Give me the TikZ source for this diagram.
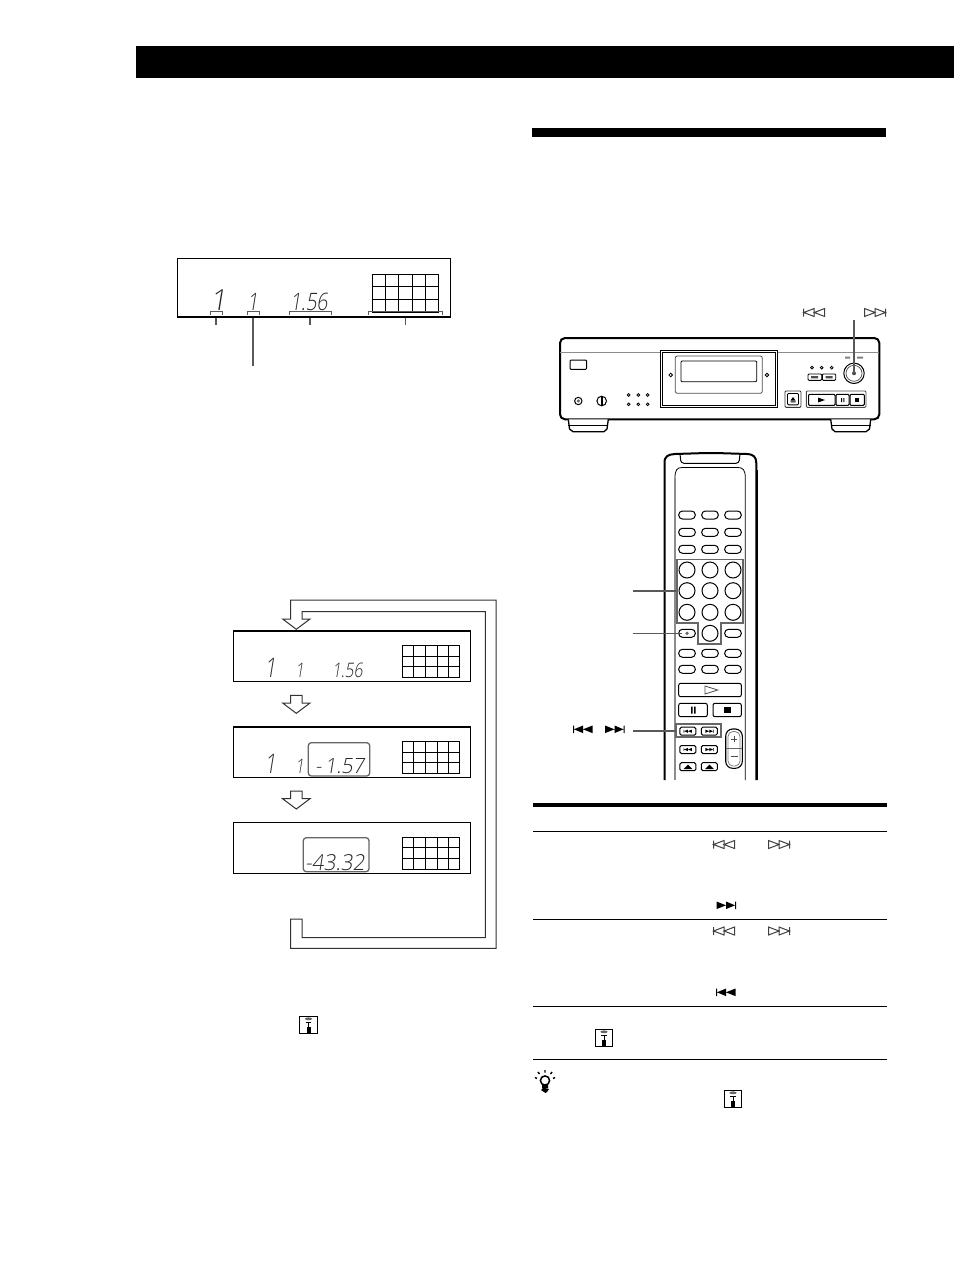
\documentclass[tikz,border=0pt]{standalone}
\usepackage{fontspec}
\newfontfamily\lcd{Open Sans Light}
\newcommand\lcdf[1]{\lcd\fontsize{#1}{#1}\selectfont}
\tikzset{
  ink/.style={draw=black,line width=1pt},
  greyink/.style={draw=black!65,line width=1pt},
  lcdtext/.style={anchor=base west,inner sep=0pt,outer sep=0pt,transform shape,text=black!85},
  lcdbig/.style={lcdtext,xslant=.16,font=\lcdf{29}},
  lcdmid/.style={lcdtext,xslant=.16,xscale=.8,font=\lcdf{24}},
  lcdsmall/.style={lcdtext,xslant=.16,xscale=.78,font=\lcdf{20}},
  oval/.style={ink,rounded corners=3.8pt},
  dotmark/.style={draw=black,line width=.8pt,fill=white},
  pics/prevhollow/.style={code={
    \draw[draw=black!75,line width=1pt] (-10.5,-4)--(-10.5,4) (-10.5,0)--(0,-4)--(0,4)--cycle (0,0)--(10.5,-4)--(10.5,4)--cycle;}},
  pics/nexthollow/.style={code={
    \draw[draw=black!75,line width=1pt] (10.5,-4)--(10.5,4) (10.5,0)--(0,-4)--(0,4)--cycle (0,0)--(-10.5,-4)--(-10.5,4)--cycle;}},
  pics/prevfill/.style={code={
    \fill[black] (-10,-3.8) rectangle (-9,3.8) (-9,0)--(0,-3.8)--(0,3.8)--cycle (0,0)--(9.5,-3.8)--(9.5,3.8)--cycle;}},
  pics/nextfill/.style={code={
    \fill[black] (10,-3.8) rectangle (9,3.8) (9,0)--(0,-3.8)--(0,3.8)--cycle (0,0)--(-9.5,-3.8)--(-9.5,3.8)--cycle;}},
  pics/remoteicon/.style={code={
    \draw[black,line width=1.1pt,fill=white] (-8.7,-8.7) rectangle (8.7,8.7);
    \fill[black!60] (0,-6.2) ellipse (3.6 and 1.4);
    \draw[black,line width=.9pt] (-2.8,-2.6)--(2.8,-2.6) (0,-2.6)--(0,2);
    \fill[black] (-2,1.5) rectangle (2,7.5);}},
  pics/grid/.style={code={
    \draw[black,line width=1pt] (0,0) rectangle (57.4,32);
    \draw[black,line width=1pt] (11.4,0)--(11.4,32) (23,0)--(23,32) (34.7,0)--(34.7,32) (46.4,0)--(46.4,32) (0,10.7)--(57.4,10.7) (0,21)--(57.4,21);}},
  pics/downarrow/.style={code={
    \draw[draw=black!80,line width=1pt,fill=white] (-5.7,0)--(5.7,0)--(5.7,7.7)--(13.7,7.7)--(0,18)--(-13.7,7.7)--(-5.7,7.7)--cycle;}},
  pics/smallbtn/.style={code={
    \draw[black,line width=1pt,rounded corners=1.5pt] (-8,-4) rectangle (8,4);}}
}
\begin{document}
\begin{tikzpicture}[x=1pt,y=-1pt,line join=miter]
\useasboundingbox (0,0) rectangle (954,1274);
% page furniture
\fill[black] (136,46) rectangle (954,78);
\fill[black] (532,128) rectangle (886,137);
% top display
\draw[black,line width=1pt] (177.5,316.7)--(177.5,258.3)--(450.5,258.3)--(450.5,316.7);
\draw[black,line width=2pt] (176.8,317)--(451.2,317);
\pic at (372.3,274) [xscale=1.157,yscale=1.197] {grid};
\node[lcdbig] (topa) at (210,310.5) {1};
\node[lcdmid] (topb) at (247,310.5) {1};
\node[lcdmid] (topc) at (290,310.5) {1.56};
% brackets
\draw[draw=black!65,line width=1pt] (210.7,314.6)--(210.7,311)--(222.3,311)--(222.3,314.6);
\draw[draw=black!65,line width=1pt] (247.3,314.6)--(247.3,311)--(259.3,311)--(259.3,314.6);
\draw[draw=black!65,line width=1pt] (289.3,314.6)--(289.3,311)--(331.3,311)--(331.3,314.6);
\draw[draw=black!65,line width=1pt] (368.3,314.6)--(368.3,311)--(442.7,311)--(442.7,314.6);
\draw[draw=black!65,line width=2pt] (216,318)--(216,324.7);
\draw[draw=black!65,line width=2pt] (252.7,318)--(252.7,365.7);
\draw[draw=black!65,line width=2pt] (310,318)--(310,324.7);
\draw[draw=black!65,line width=1pt] (405.3,318)--(405.3,324.7);
% loop arrow
\draw[draw=black!80,line width=1pt,fill=white] (290.7,619)--(290.7,600)--(496,600)--(496,948.3)--(290.7,948.3)--(290.7,919)--(302,919)--(302,937.7)--(485.3,937.7)--(485.3,611.7)--(302,611.7)--(302,619)--(310,619)--(296.3,629.3)--(282.7,619)--cycle;
% flow displays
\draw[black,line width=1pt,fill=white] (233.3,631)rectangle(470,681.3);
\draw[black,line width=2pt] (232.8,631)--(470.5,631);
\draw[black,line width=1pt,fill=white] (233.3,726.7)rectangle(470,777.3);
\draw[black,line width=2pt] (232.8,726.7)--(470.5,726.7);
\draw[black,line width=1pt,fill=white] (233.3,822.3)rectangle(470,873.3);
\pic at (402.3,645.3) {grid};
\pic at (402.3,741.3) {grid};
\pic at (402.3,837) {grid};
\pic at (296.3,695.3) {downarrow};
\pic at (296.3,791) {downarrow};
\draw[draw=black!60,line width=1.3pt,rounded corners=3pt] (308.3,742.7) rectangle (369.7,776);
\draw[draw=black!60,line width=1.3pt,rounded corners=3pt] (303.3,837.7) rectangle (369,871.7);
\node[lcdsmall,font=\lcdf{27}] (fa) at (264,677) {1};
\node[lcdsmall] (fb) at (295,677) {1};
\node[lcdsmall] (fc) at (332,677) {1.56};
\node[lcdsmall,font=\lcdf{27}] (ga) at (264,773) {1};
\node[lcdsmall] (gb) at (295,773) {1};
\node[lcdsmall,xscale=1.23,font=\lcdf{21}] (gc) at (315,773) {-\,1.57};
\node[lcdsmall,xscale=1.22,font=\lcdf{22}] (hc) at (305,870) {-43.32};
\pic at (308.5,1025) {remoteicon};
% CD player
\pic at (814.2,312.5) {prevhollow};
\pic at (875,312.5) {nexthollow};
\draw[black,line width=2pt,rounded corners=5pt,fill=white] (560,338)rectangle(879.3,419.3);
\draw[black!45,line width=1pt] (560,352.3)--(660,352.3) (777,352.3)--(879,352.3);
\draw[black,line width=1.3pt,fill=white] (568.3,419.3)--(569.5,429)--(573,431.7)--(604,431.7)--(607,429)--(608.3,419.3);
\draw[black,line width=1.3pt,fill=white] (830.7,419.3)--(832,429)--(835,431.7)--(866,431.7)--(869.5,429)--(870.7,419.3);
\draw[black,line width=1pt] (568.3,425)--(608.3,425) (830.7,425)--(870.7,425);
\draw[black,line width=1.2pt] (660.3,350.7)rectangle(777.3,407.3);
\draw[black,line width=.7pt] (662,352.5)rectangle(775.6,405.6);
\draw[black!70,line width=.8pt,rounded corners=2pt] (675.3,356)--(675.3,393.3)--(762.3,393.3)--(762.3,356)--cycle;
\draw[black,line width=.9pt,rounded corners=1pt] (681,361)rectangle(756.7,381.7);
\draw[dotmark] (670.7,375) circle (1.8);
\draw[dotmark] (767,375) circle (1.8);
\draw[black,line width=1pt,rounded corners=1pt] (570,360)rectangle(586.7,369.3);
\draw[black,line width=1pt] (578.3,401) circle (3.7);
\fill[black!60] (578.3,401) circle (1.7);
\draw[black,line width=1pt] (601.7,401) circle (4.8);
\fill[black] (600.6,396.5) rectangle (602.8,405.5);
\foreach \dx in {628.7,638.3,647.7}{\foreach \dy in {395,404.3}{\draw[dotmark] (\dx,\dy) circle (1.4);}}
\foreach \dx in {812,821.7,831.7}{\draw[dotmark] (\dx,367.7) circle (1.4);}
\draw[black,line width=.9pt,rounded corners=1pt] (808,374)rectangle(821.7,380.3);
\draw[black,line width=.9pt,rounded corners=1pt] (822.3,374)rectangle(835.7,380.3);
\fill[black!70] (811,376) rectangle (818,378.4) (825.5,376) rectangle (832.5,378.4);
\draw[black,line width=1pt] (854,373.3) circle (10.2);
\draw[black!70,line width=.7pt] (854,373.3) circle (8);
\fill[black!50] (845,356.5) rectangle (850,358.5) (857,356.5) rectangle (863,358.5);
\draw[black!80,line width=.9pt,rounded corners=1pt] (785,391)rectangle(801,407.3);
\draw[black,line width=.9pt,rounded corners=1pt] (787.5,393.5)rectangle(798.5,404.8);
\fill[black] (790.5,400.5)--(793,397)--(795.5,400.5)--cycle (790.5,401.3) rectangle (795.5,402.3);
\draw[black!70,line width=.9pt,rounded corners=1pt] (806.3,391)rectangle(866,407.3);
\draw[black,line width=1pt,rounded corners=1pt] (808.5,394.3)rectangle(835,405.3);
\draw[black,line width=1pt,rounded corners=1pt] (836,394.3)rectangle(849,405.3);
\draw[black,line width=1pt,rounded corners=1pt] (850,394.3)rectangle(864.3,405.3);
\fill[black] (818,397.5)--(825,400)--(818,402.5)--cycle;
\fill[black] (841,398) rectangle (842,402) (843.3,398) rectangle (844.3,402);
\fill[black] (855,398) rectangle (859,402);
\fill[black!70] (854,373.3) circle (2);
\draw[draw=black!65,line width=1.2pt] (854,320)--(854,373.3);
% Remote
\draw[black,line width=2pt] (664.5,780)--(664.5,463) .. controls (664.5,456) and (668,454.5) .. (675,454)--(700,453.2)--(722,453.2)--(747,454) .. controls (754,454.5) and (756,457) .. (756.3,463)--(756.3,780);
\draw[black,line width=1pt,rounded corners=3pt] (680,454)--(681,463.3)--(739,463.3)--(740,454);
\draw[black,line width=.8pt] (745.3,780)--(745.3,478) .. controls (745.3,470) and (743,467.5) .. (738,467.5)--(682,467.5) .. controls (677,467.5) and (675,470) .. (675,478);
\draw[black!45,line width=1.2pt] (675,478)--(675,780);
\draw[black,line width=1.6pt] (757,470)--(757,780);
\foreach \yy in {515,532.3,549.3,653.3,669.3}{\foreach \xx in {687,710,733}{\draw[oval] (\xx-8.3,\yy-4) rectangle (\xx+8.3,\yy+4);}}
\foreach \yy in {570,590.7,612.3}{\foreach \xx in {687,710,733}{\draw[ink] (\xx,\yy) circle (8);}}
\draw[ink] (710,633.3) circle (8);
\draw[oval] (678.7,629.3) rectangle (695.3,637.3);
\draw[oval] (724.7,629.3) rectangle (741.3,637.3);
\fill[black!60] (687,633.3) circle (1.8);
\draw[draw=black!60,line width=1.7pt] (676.7,559.5)--(743,559.5)--(743,622.7)--(720.7,622.7)--(720.7,644.3)--(698.3,644.3)--(698.3,622.7)--(676.7,622.7)--cycle;
\draw[ink,rounded corners=2pt] (678.7,683.3)rectangle(741.3,696.7);
\draw[black!70,line width=.8pt] (705,686)--(717.7,690)--(705,694)--cycle;
\draw[ink,rounded corners=2pt] (678.7,703.3)rectangle(707.3,716.7);
\draw[ink,rounded corners=2pt] (713,703.3)rectangle(741.3,716.7);
\fill[black] (691,706.5)rectangle(692.5,713.5) (694,706.5)rectangle(695.5,713.5);
\fill[black] (724,707)rectangle(730.5,713);
\draw[draw=black!60,line width=1.7pt] (676,724.3)rectangle(721,737.3);
\foreach \xx in {687.9,709.3}{\foreach \yy in {731.2,749.5,766.7}{\pic at (\xx,\yy) {smallbtn};}}
\pic at (687.9,731.2) [scale=.42] {prevfill};
\pic at (709.3,731.2) [scale=.42] {nextfill};
\pic at (687.9,749.5) [scale=.42] {prevfill};
\pic at (709.3,749.5) [scale=.42] {nextfill};
\fill[black] (683.5,769)--(688,764.5)--(692.5,769)--cycle (705,769)--(709.5,764.5)--(714,769)--cycle;
\draw[black,line width=1.1pt,rounded corners=7pt] (725.7,729)rectangle(742.3,768.3);
\draw[black!50,line width=.8pt,rounded corners=5pt] (728,731.5)rectangle(740,766);
\draw[black!60,line width=.8pt] (726,748.3)--(742,748.3);
\draw[black!70,line width=.9pt] (731,739.3)--(737,739.3) (734,736.3)--(734,742.3) (730.5,756.7)--(737.5,756.7);
% leader lines
\draw[draw=black!65,line width=1.6pt] (633.3,590.7)--(676,590.7);
\draw[draw=black!65,line width=1pt] (632.7,633.3)--(682,633.3);
\draw[draw=black!65,line width=1.6pt] (632.7,731)--(676,731);
\pic at (583,729.3) {prevfill};
\pic at (614.5,729.3) {nextfill};
% Table
\fill[black] (533,803)rectangle(887,807);
\foreach \ry in {831.3,919.3,1006.3,1059.3}{\draw[black,line width=1.1pt] (533,\ry)--(887,\ry);}
\pic at (724,844.5) {prevhollow};
\pic at (779,844.5) {nexthollow};
\pic at (726,905.3) {nextfill};
\pic at (724,931) {prevhollow};
\pic at (779,931) {nexthollow};
\pic at (726,992.3) {prevfill};
\pic at (604,1038) {remoteicon};
\pic at (733,1099) {remoteicon};
% tip bulb
\draw[black,line width=1.5pt] (545,1080.5) circle (4.6);
\fill[black] (542,1085) rectangle (548,1088) (543,1088)--(549,1089)--(547,1092)--(545.5,1093)--(541,1090)--cycle;
\draw[black,line width=1.4pt] (545,1070)--(545,1072.5) (538,1072)--(539.5,1074) (552,1072)--(550.5,1074) (535,1077.5)--(537,1078.5) (555,1077.5)--(553,1078.5);
\end{tikzpicture}
\end{document}
